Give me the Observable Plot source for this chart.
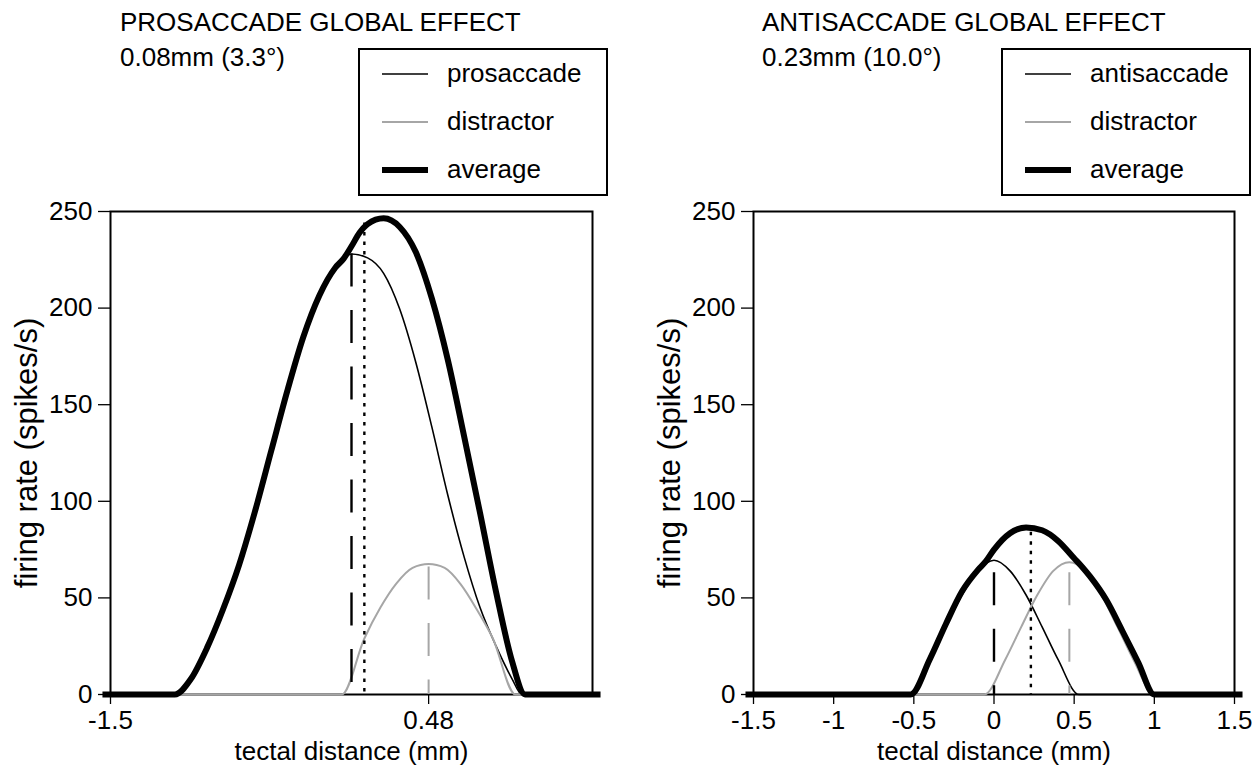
<!DOCTYPE html>
<html>
<head>
<meta charset="utf-8">
<script src="https://cdn.jsdelivr.net/npm/d3@7"></script>
<script src="https://cdn.jsdelivr.net/npm/@observablehq/plot@0.6"></script>
<style>
  body { margin: 0; background: #fff; font-family: "Liberation Sans", Arial, sans-serif; }
  #wrap { position: relative; width: 1260px; height: 770px; overflow: hidden; background: #fff; }
  .panel { position: absolute; top: 0; width: 630px; height: 770px; }
  .panel svg { position: absolute; left: 0; top: 0; }
  .title { position: absolute; font-size: 26px; line-height: 26px; white-space: nowrap; color: #000; }
  .legend { position: absolute; border: 2px solid #000; box-sizing: border-box; background: #fff; }
  .legend .row { position: absolute; left: 0; height: 26px; width: 100%; }
  .legend .row svg { position: absolute; left: 22px; top: 0; }
  .legend .row span { position: absolute; left: 87px; top: -1px; font-size: 26px; line-height: 26px; white-space: nowrap; }
</style>
</head>
<body>
<div id="wrap"></div>
<script>
// ---------- data ----------
const yTicks = [0, 50, 100, 150, 200, 250];
const proXTicks = [-1.5, 0.48];
const antiXTicks = [-1.5, -1, -0.5, 0, 0.5, 1, 1.5];

const titles = ["PROSACCADE GLOBAL EFFECT", "ANTISACCADE GLOBAL EFFECT"];
const subtitles = ["0.08mm (3.3°)", "0.23mm (10.0°)"];
const proLegend = ["prosaccade", "distractor", "average"];
const antiLegend = ["antisaccade", "distractor", "average"];
const xLabel = "tectal distance (mm)";
const yLabel = "firing rate (spikes/s)";

// left panel: prosaccade
const proX = [-1.5, -1.1, -1.0, -0.9, -0.8, -0.7, -0.6, -0.5, -0.4, -0.3, -0.2, -0.1, 0, 0.1, 0.2, 0.3, 0.4, 0.5, 0.6, 0.7, 0.8, 0.9, 1.0, 1.06, 1.5];
const proY = [0, 0, 8, 24, 44, 67, 95, 126, 157, 185, 206.5, 221, 228, 226, 218, 199.5, 172, 138.5, 103, 71.5, 45, 25, 8, 0, 0];
const proDistX = [-1.5, -0.06, 0.08, 0.18, 0.28, 0.38, 0.48, 0.58, 0.68, 0.78, 0.88, 1.02, 1.5];
const proDistY = [0, 0, 29, 45, 57.5, 65.5, 67.5, 65.5, 57, 44, 29, 0, 0];
const proAvgX = [-1.55, -1.1, -1.0, -0.9, -0.8, -0.7, -0.6, -0.5, -0.4, -0.3, -0.2, -0.1, -0.05, 0, 0.05, 0.1, 0.2, 0.3, 0.4, 0.5, 0.6, 0.7, 0.8, 0.9, 1.0, 1.08, 1.55];
const proAvgY = [0, 0, 8, 24, 44, 67, 95, 126, 157, 185, 206.5, 221, 225.5, 232, 239, 243.5, 246.5, 242, 229, 205, 173, 134, 94, 53, 17, 0, 0];
const proTargetAt = 0, proTargetTop = 228;
const proDistAt = 0.48, proDistTop = 66;
const proEffectAt = 0.08, proEffectTop = 244;

// right panel: antisaccade
const antiX = [-1.5, -0.53, -0.4, -0.3, -0.2, -0.1, 0, 0.1, 0.2, 0.3, 0.4, 0.53, 1.5];
const antiY = [0, 0, 18, 35, 51.5, 64, 69.5, 64, 51.5, 35, 18, 0, 0];
const antiDistX = [-1.5, -0.06, 0.07, 0.17, 0.27, 0.37, 0.47, 0.57, 0.67, 0.77, 0.87, 1.0, 1.5];
const antiDistY = [0, 0, 18, 35, 51.5, 64, 68.5, 64, 51.5, 35, 18, 0, 0];
const antiAvgX = [-1.55, -0.52, -0.4, -0.3, -0.2, -0.1, -0.05, 0, 0.1, 0.2, 0.3, 0.4, 0.5, 0.55, 0.6, 0.7, 0.8, 0.9, 1.0, 1.55];
const antiAvgY = [0, 0, 18.3, 36.5, 53.3, 64.5, 69, 75, 83.5, 86.5, 85, 79.5, 70.5, 66, 61, 49, 33, 16.5, 0, 0];
const antiTargetAt = 0, antiTargetTop = 63;
const antiDistAt = 0.47, antiDistTop = 63;
const antiEffectAt = 0.23, antiEffectTop = 84;

// ---------- styles ----------
const GREY = "#a6a6a6";
const FONT = "'Liberation Sans', Arial, sans-serif";

const zip = (xs, ys) => xs.map((x, i) => ({x, y: ys[i]}));

function makePanel(cfg) {
  const main = zip(cfg.mainX, cfg.mainY);
  const dist = zip(cfg.distX, cfg.distY);
  const avg = zip(cfg.avgX, cfg.avgY);
  const dashed = [
    {x: cfg.targetAt, top: cfg.targetTop, c: "black"},
    {x: cfg.distAt, top: cfg.distTop, c: GREY}
  ];
  const dotted = [{x: cfg.effectAt, top: cfg.effectTop}];
  return Plot.plot({
    width: 630, height: 770,
    marginTop: 211, marginBottom: 76, marginLeft: cfg.ml, marginRight: cfg.mr,
    x: {domain: [-1.5, 1.5]},
    y: {domain: [0, 250]},
    style: {fontFamily: FONT, fontSize: "26px", color: "black", background: "transparent", overflow: "visible"},
    marks: [
      Plot.frame({stroke: "black", strokeWidth: 2}),
      Plot.axisY({ticks: yTicks, tickSize: 12, tickPadding: 6, fontSize: 26, strokeWidth: 1.3, label: null}),
      Plot.axisY({ticks: [], fontSize: 31, label: yLabel, labelAnchor: "center", labelOffset: 96, labelArrow: "none"}),
      Plot.axisX({ticks: cfg.xTicks, tickFormat: d => String(d), tickSize: 10, tickPadding: 6, fontSize: 26, strokeWidth: 1.3, label: null}),
      Plot.axisX({ticks: [], fontSize: 26, label: xLabel, labelAnchor: "center", labelOffset: 65, labelArrow: "none"}),
      Plot.line(main, {x: "x", y: "y", stroke: "black", strokeWidth: 1.6, curve: "monotone-x"}),
      Plot.line(dist, {x: "x", y: "y", stroke: GREY, strokeWidth: 2, curve: "monotone-x"}),
      Plot.ruleX(dashed, {x: "x", y1: "top", y2: () => 0, stroke: "c", strokeWidth: d => d.c === "black" ? 2.4 : 2, strokeDasharray: "33,23.5"}),
      Plot.ruleX(dotted, {x: "x", y1: "top", y2: () => 0, stroke: "black", strokeWidth: 2.4, strokeDasharray: "3.5,6"}),
      Plot.line(avg, {x: "x", y: "y", stroke: "black", strokeWidth: 6, strokeLinecap: "butt", curve: "monotone-x"})
    ]
  });
}

function makeLegend(labels, left) {
  const box = document.createElement("div");
  box.className = "legend";
  Object.assign(box.style, {left: left + "px", top: "48px", width: "250px", height: "148px"});
  const styles = [
    {stroke: "black", w: 1.6},
    {stroke: GREY, w: 2},
    {stroke: "black", w: 6}
  ];
  labels.forEach((lab, i) => {
    const row = document.createElement("div");
    row.className = "row";
    row.style.top = (11 + i * 48) + "px";
    row.innerHTML = `<svg width="46" height="26"><line x1="0" x2="46" y1="13" y2="13" stroke="${styles[i].stroke}" stroke-width="${styles[i].w}"/></svg><span>${lab}</span>`;
    box.appendChild(row);
  });
  return box;
}

const wrap = document.getElementById("wrap");
const panels = [
  {left: 0, ml: 110, mr: 38, titleX: 120, legendX: 358, legend: proLegend, xTicks: proXTicks,
   mainX: proX, mainY: proY, distX: proDistX, distY: proDistY, avgX: proAvgX, avgY: proAvgY,
   targetAt: proTargetAt, targetTop: proTargetTop, distAt: proDistAt, distTop: proDistTop, effectAt: proEffectAt, effectTop: proEffectTop},
  {left: 630, ml: 123, mr: 26, titleX: 132, legendX: 371, legend: antiLegend, xTicks: antiXTicks,
   mainX: antiX, mainY: antiY, distX: antiDistX, distY: antiDistY, avgX: antiAvgX, avgY: antiAvgY,
   targetAt: antiTargetAt, targetTop: antiTargetTop, distAt: antiDistAt, distTop: antiDistTop, effectAt: antiEffectAt, effectTop: antiEffectTop}
];
panels.forEach((p, i) => {
  const div = document.createElement("div");
  div.className = "panel";
  div.style.left = p.left + "px";
  div.appendChild(makePanel(p));
  const t = document.createElement("div");
  t.className = "title"; t.textContent = titles[i];
  Object.assign(t.style, {left: p.titleX + "px", top: "9px"});
  div.appendChild(t);
  const s = document.createElement("div");
  s.className = "title"; s.textContent = subtitles[i];
  Object.assign(s.style, {left: p.titleX + "px", top: "44px"});
  div.appendChild(s);
  div.appendChild(makeLegend(p.legend, p.legendX));
  wrap.appendChild(div);
});
</script>
</body>
</html>
